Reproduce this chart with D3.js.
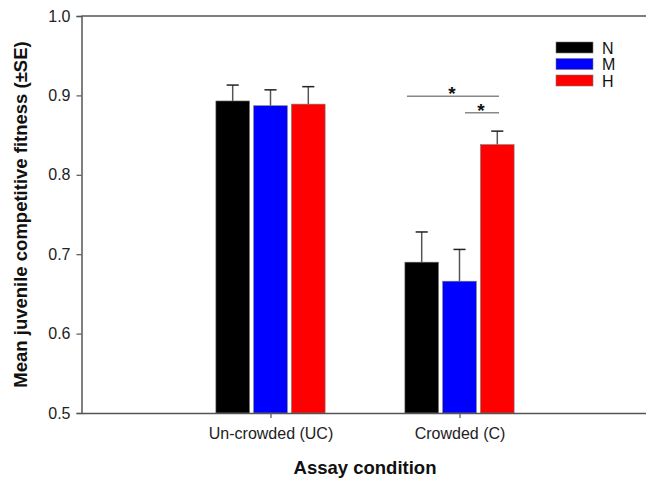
<!DOCTYPE html>
<html>
<head>
<meta charset="utf-8">
<script src="https://cdn.jsdelivr.net/npm/d3@7"></script>
<style>
  body { margin: 0; background: #fff; }
  text { font-family: Arial, "Liberation Sans", sans-serif; }
</style>
</head>
<body>
<div id="chart"></div>
<script>
const conditions = ["Un-crowded (UC)", "Crowded (C)"];
const seriesNames = ["N", "M", "H"];
const seriesColors = ["#000000", "#0000ff", "#ff0000"];
const meanN = [0.893, 0.690];
const meanM = [0.887, 0.666];
const meanH = [0.889, 0.838];
const seN = [0.020, 0.038];
const seM = [0.020, 0.040];
const seH = [0.022, 0.017];
const yTicks = [0.5, 0.6, 0.7, 0.8, 0.9, 1.0];

const width = 646, height = 481;
const svg = d3.select("#chart").append("svg").attr("width", width).attr("height", height);

const x = d3.scaleLinear().domain([0, 3]).range([81.5, 648.5]);
const y = d3.scaleLinear().domain([0.5, 1.0]).range([413, 16]);

const means = [meanN, meanM, meanH];
const ses = [seN, seM, seH];
const barW = 0.178, step = 0.2;

const bars = [];
seriesNames.forEach((s, si) => {
  conditions.forEach((c, ci) => {
    bars.push({ s: si, pos: ci + 1 + (si - 1) * step, v: means[si][ci], e: ses[si][ci] });
  });
});

// error bars (upper only)
const capW = 0.032;
svg.selectAll(".err").data(bars).enter().append("g").each(function (d) {
  const g = d3.select(this);
  g.append("line").attr("x1", x(d.pos)).attr("x2", x(d.pos))
    .attr("y1", y(d.v)).attr("y2", y(d.v + d.e)).attr("stroke", "#555").attr("stroke-width", 1.5);
  g.append("line").attr("x1", x(d.pos - capW)).attr("x2", x(d.pos + capW))
    .attr("y1", y(d.v + d.e)).attr("y2", y(d.v + d.e)).attr("stroke", "#222").attr("stroke-width", 1.5);
});

svg.selectAll(".bar").data(bars).enter().append("rect")
  .attr("x", d => x(d.pos - barW / 2))
  .attr("width", x(barW) - x(0))
  .attr("y", d => y(d.v))
  .attr("height", d => y(0.5) - y(d.v))
  .attr("fill", d => seriesColors[d.s])
  .attr("stroke", "#777").attr("stroke-width", 0.6);

// axes
const yAxis = d3.axisLeft(y).tickValues(yTicks).tickFormat(d3.format(".1f")).tickSize(5).tickPadding(6);
const gy = svg.append("g").attr("transform", `translate(${x(0)},0)`).call(yAxis);
gy.select(".domain").attr("stroke", "#555").attr("stroke-width", 1.5);
gy.selectAll(".tick line").attr("stroke", "#555").attr("stroke-width", 1.2);
gy.selectAll("text").attr("font-size", 16).attr("fill", "#222");

const xAxis = d3.axisBottom(x).tickValues([1, 2]).tickFormat(d => conditions[d - 1]).tickSize(5).tickPadding(10).tickSizeOuter(0);
const gx = svg.append("g").attr("transform", `translate(0,${y(0.5)})`).call(xAxis);
gx.select(".domain").attr("stroke", "#555").attr("stroke-width", 1.5);
gx.selectAll(".tick line").attr("stroke", "#555").attr("stroke-width", 1.2);
gx.selectAll("text").attr("font-size", 16).attr("fill", "#222");

// top frame line
svg.append("line").attr("x1", x(0)).attr("x2", width).attr("y1", y(1)).attr("y2", y(1))
  .attr("stroke", "#555").attr("stroke-width", 1.5);

// significance markers
const sig = [
  { from: 1.722, to: 2.209, at: 0.899, star: 1.960 },
  { from: 2.029, to: 2.209, at: 0.878, star: 2.113 }
];
sig.forEach(s => {
  svg.append("line").attr("x1", x(s.from)).attr("x2", x(s.to)).attr("y1", y(s.at)).attr("y2", y(s.at))
    .attr("stroke", "#888").attr("stroke-width", 1.5);
  svg.append("text").attr("x", x(s.star)).attr("y", y(s.at) + 4).attr("text-anchor", "middle")
    .attr("font-size", 19).attr("font-weight", "bold").attr("fill", "#111").text("*");
});

// legend
const lg = svg.append("g").attr("transform", "translate(556,42)");
seriesNames.forEach((s, i) => {
  lg.append("rect").attr("x", 0).attr("y", i * 16.5).attr("width", 37).attr("height", 11)
    .attr("fill", seriesColors[i]).attr("stroke", "#777").attr("stroke-width", 0.6);
  lg.append("text").attr("x", 46).attr("y", i * 16.5 + 11.5).attr("font-size", 16).attr("fill", "#111").text(s);
});

// titles
svg.append("text").attr("transform", `translate(27,${(y(0.5) + y(1)) / 2}) rotate(-90)`)
  .attr("text-anchor", "middle").attr("font-size", 18.5).attr("font-weight", "bold").attr("fill", "#111")
  .text("Mean juvenile competitive fitness (\u00b1SE)");
svg.append("text").attr("x", 365).attr("y", 474).attr("text-anchor", "middle")
  .attr("font-size", 18.5).attr("font-weight", "bold").attr("fill", "#111").text("Assay condition");
</script>
</body>
</html>
